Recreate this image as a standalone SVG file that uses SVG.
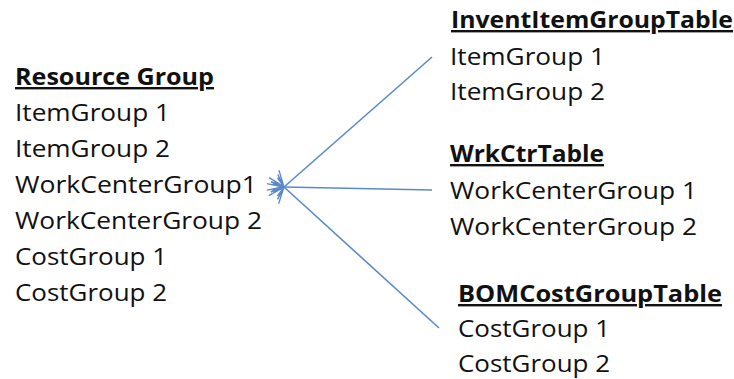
<svg xmlns="http://www.w3.org/2000/svg" width="734" height="379" viewBox="0 0 734 379">
<defs>
<style>
text{font-family:"Open Sans","Liberation Sans",sans-serif;font-size:24px;fill:#111}
.h{font-weight:bold;text-decoration:underline}
.c{stroke:#5a8ac8;stroke-width:1.6;fill:none}
</style>
<marker id="arr" viewBox="0 0 18 20" refX="1" refY="10" markerWidth="18" markerHeight="20" markerUnits="userSpaceOnUse" orient="auto-start-reverse">
<path d="M16,1 L1,10 L16,19 M14,5 L1,10 L14,15 M12,7.5 L1,10 L12,12.5" stroke="#5a8ac8" stroke-width="1.4" fill="none"/>
</marker>
</defs>
<rect width="734" height="379" fill="#fff"/>
<g id="resource-group">
<text class="h" x="15" y="85" textLength="199" lengthAdjust="spacingAndGlyphs">Resource Group</text>
<text x="15" y="121" textLength="155" lengthAdjust="spacingAndGlyphs">ItemGroup 1</text>
<text x="15" y="157" textLength="155" lengthAdjust="spacingAndGlyphs">ItemGroup 2</text>
<text x="15" y="193" textLength="242" lengthAdjust="spacingAndGlyphs">WorkCenterGroup1</text>
<text x="15" y="229" textLength="247" lengthAdjust="spacingAndGlyphs">WorkCenterGroup 2</text>
<text x="15" y="265" textLength="152" lengthAdjust="spacingAndGlyphs">CostGroup 1</text>
<text x="15" y="301" textLength="152" lengthAdjust="spacingAndGlyphs">CostGroup 2</text>
</g>
<g id="invent-item-group-table">
<text class="h" x="451" y="28" textLength="282" lengthAdjust="spacingAndGlyphs">InventItemGroupTable</text>
<text x="450" y="65" textLength="155" lengthAdjust="spacingAndGlyphs">ItemGroup 1</text>
<text x="450" y="100" textLength="155" lengthAdjust="spacingAndGlyphs">ItemGroup 2</text>
</g>
<g id="wrkctr-table">
<text class="h" x="450" y="162" textLength="154" lengthAdjust="spacingAndGlyphs">WrkCtrTable</text>
<text x="450" y="199" textLength="247" lengthAdjust="spacingAndGlyphs">WorkCenterGroup 1</text>
<text x="450" y="235" textLength="247" lengthAdjust="spacingAndGlyphs">WorkCenterGroup 2</text>
</g>
<g id="bom-cost-group-table">
<text class="h" x="458" y="302" textLength="264" lengthAdjust="spacingAndGlyphs">BOMCostGroupTable</text>
<text x="458" y="337" textLength="152" lengthAdjust="spacingAndGlyphs">CostGroup 1</text>
<text x="458" y="372" textLength="152" lengthAdjust="spacingAndGlyphs">CostGroup 2</text>
</g>
<g id="connectors">
<line class="c" x1="432" y1="57" x2="284" y2="187" marker-end="url(#arr)"/>
<line class="c" x1="432" y1="190" x2="284" y2="187" marker-end="url(#arr)"/>
<line class="c" x1="439" y1="328" x2="284" y2="187" marker-end="url(#arr)"/>
</g>
</svg>
